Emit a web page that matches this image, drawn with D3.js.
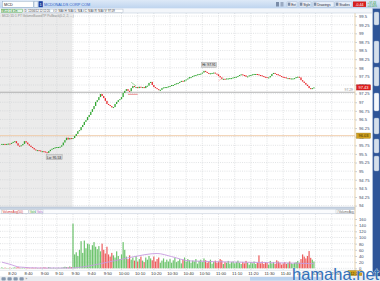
<!DOCTYPE html>
<html><head><meta charset="utf-8">
<script src="https://cdn.jsdelivr.net/npm/d3@7/dist/d3.min.js"></script>
<style>
body{margin:0;background:#fff}
svg{display:block;font-family:"Liberation Sans",Arial,sans-serif}
</style>
</head><body>
<svg id="c" width="380" height="281"></svg>
<script>
// ---------------- DATA ----------------
// pre-market closes (one per traded minute bar)
const preClose = [95.79,95.79,95.78,95.79,95.80,95.79,95.82,95.85,95.87,95.81,
  95.74,95.73,95.75,95.79,95.87,95.83,95.78,95.74,95.70,95.67,
  95.63,95.61,95.61,95.60,95.58,95.58,95.57,95.55,95.53,95.58,
  95.62,95.65,95.67,95.69,95.70,95.70,95.71,95.75,95.83,95.90,
  95.97,95.92,95.96,95.93];
// regular session closes, 9:30 .. 11:59 (1-minute bars)
const regClose = [95.96,96.02,96.08,96.16,96.19,96.28,96.34,96.43,96.48,96.57,
  96.63,96.72,96.80,96.89,97.01,97.06,97.15,97.24,97.18,97.12,
  97.04,96.95,96.92,96.89,96.85,96.86,96.95,97.01,97.06,97.09,
  97.15,97.27,97.33,97.38,97.33,97.32,97.41,97.47,97.44,97.44,
  97.41,97.45,97.43,97.44,97.41,97.47,97.48,97.56,97.59,97.50,
  97.44,97.41,97.38,97.35,97.36,97.41,97.43,97.44,97.44,97.46,
  97.47,97.50,97.50,97.53,97.55,97.56,97.59,97.62,97.60,97.64,
  97.66,97.69,97.73,97.73,97.76,97.78,97.79,97.81,97.82,97.83,
  97.86,97.91,97.88,97.85,97.83,97.84,97.85,97.86,97.83,97.81,
  97.76,97.72,97.67,97.68,97.67,97.69,97.69,97.70,97.70,97.72,
  97.73,97.74,97.76,97.79,97.81,97.79,97.78,97.74,97.75,97.78,
  97.79,97.81,97.82,97.82,97.81,97.79,97.78,97.76,97.74,97.73,
  97.72,97.72,97.76,97.82,97.85,97.82,97.81,97.79,97.76,97.74,
  97.73,97.72,97.70,97.70,97.69,97.69,97.69,97.70,97.73,97.74,
  97.72,97.64,97.60,97.56,97.51,97.47,97.41,97.38,97.41,97.43];
const preVolume = [3,1,2,1,1,2,1,2,3,2,4,2,1,2,1,3,2,1,1,2,1,2,1,1,2,1,3,2,1,4,2,1,2,1,1,2,1,2,3,5,4,3,6,4];
const regVolume = [145,45,52,40,60,88,50,90,65,80,
  78,60,75,85,70,62,72,55,80,60,
  48,70,45,38,50,42,35,55,40,30,
  45,85,60,38,30,42,28,35,25,40,
  22,30,38,25,20,35,28,40,32,26,
  38,22,30,35,18,25,32,20,28,22,
  30,18,26,34,20,24,30,16,28,35,
  22,30,26,18,25,22,30,15,24,28,
  20,32,26,18,22,28,15,20,25,18,
  22,30,26,14,20,18,24,15,20,22,
  16,20,25,18,14,20,16,24,18,12,
  20,16,22,14,18,42,16,22,14,20,
  18,12,24,16,20,14,26,22,18,12,
  16,20,14,18,22,16,14,18,20,24,
  18,30,45,38,32,40,56,34,28,22];
// VolumeAvg(50) line read at sampled bars
const avgIndex = [0,5,11,24,43,52,61,71,81,96,105,116,147,178,193];
const avgValue = [20,13,4,1,1,6,15,26,37,48,38,24,20,17,15];

const priceTicks = [99.5,99.25,99,98.75,98.5,98.25,98,97.75,97.5,97.25,97,96.75,96.5,96.25,96,95.75,95.5,95.25,95,94.75,94.5,94.25,94];
const priceTickLabels = ["99.5","99.25","99","98.75","98.5","98.25","98","97.75","97.5","97.25","97","96.75","96.5","96.25","96","95.75","95.5","95.25","95","94.75","94.5","94.25","94"];
const volTicks = [0,20,40,60,80,100,120,140,160];
const volTickLabels = ["0","20","40","60","80","100","120","140","160"];
const timeTickIndex = [5,15,25,34,44,54,64,74,84,94,104,114,124,134,144,154,164,174,184,194,204];
const timeTickLabels = ["8:20","8:40","9:00","9:10","9:30","9:40","9:50","10:00","10:10","10:20","10:30","10:40","10:50","11:00","11:10","11:20","11:30","11:40","11:50","12:00","12:10"];
const prevClose = 97.29;
const crossPrice = 96.03, crossIndex = 218.4, crossTimeLabel = "12:24";
const loLabel = "Lo: 95.53", hiLabel = "Hi: 97.91";

// ---------------- CHART ----------------
const svg = d3.select("#c");
const closes = preClose.concat(regClose);
const volumes = preVolume.concat(regVolume);
const openIdx = preClose.length;
const bars = closes.map((c,i)=>({i, o: i ? closes[i-1] : c, c, v: volumes[i]}));
const lastI = bars.length-1;

const plotR = 355, pTop = 13, pBot = 207, vTop = 214, vBot = 270;
const x = d3.scaleLinear().domain([0, lastI]).range([1.85, 1.85 + lastI*1.617]);
const y = d3.scaleLinear().domain([94, 99.5]).range([205.6, 16.1]);
const vy = d3.scaleLinear().domain([0,160]).range([268.3, 219]);
const UP = "#2fa52f", DN = "#e8262b";

svg.append("rect").attr("width",380).attr("height",281).attr("fill","#fff");

// pre-market shading
svg.append("rect").attr("x",0).attr("y",pTop).attr("width",x(openIdx-0.5)).attr("height",pBot-pTop).attr("fill","#ebebeb");

// grids
const g = svg.append("g").attr("stroke","#cdd0d4").attr("stroke-width",0.6).attr("stroke-dasharray","1,1.2");
g.selectAll(".hp").data(priceTicks).join("line").attr("x1",0).attr("x2",plotR).attr("y1",d=>y(d)).attr("y2",d=>y(d));
g.selectAll(".vp").data(timeTickIndex).join("line").attr("x1",d=>x(d)).attr("x2",d=>x(d)).attr("y1",pTop).attr("y2",pBot);
g.selectAll(".hv").data(volTicks).join("line").attr("x1",0).attr("x2",plotR).attr("y1",d=>vy(d)).attr("y2",d=>vy(d));
g.selectAll(".vv").data(timeTickIndex).join("line").attr("x1",d=>x(d)).attr("x2",d=>x(d)).attr("y1",vTop).attr("y2",vBot);

// previous close & crosshair lines
svg.append("line").attr("x1",0).attr("x2",plotR).attr("y1",y(prevClose)).attr("y2",y(prevClose)).attr("stroke","#a9a9a9").attr("stroke-width",0.9);
svg.append("text").attr("x",plotR-2).attr("y",y(prevClose)-1.2).attr("text-anchor","end").attr("font-size",3.4).attr("fill","#8a8a8a").text(prevClose.toFixed(2));
svg.append("line").attr("x1",0).attr("x2",plotR).attr("y1",y(crossPrice)).attr("y2",y(crossPrice)).attr("stroke","#efc9a4").attr("stroke-width",0.9);

// candles
svg.append("g").selectAll("rect").data(bars).join("rect")
  .attr("x",d=>x(d.i)-0.65).attr("width",1.3)
  .attr("y",d=>Math.min(y(d.o),y(d.c)))
  .attr("height",d=>Math.max(1,Math.abs(y(d.o)-y(d.c))))
  .attr("fill",d=>d.c>=d.o?UP:DN);

// small drawing annotations
svg.append("line").attr("x1",x(78)).attr("x2",x(84)).attr("y1",y(97.23)).attr("y2",y(97.23)).attr("stroke","#e06060").attr("stroke-width",0.7);
svg.append("line").attr("x1",x(80)).attr("x2",x(83)).attr("y1",y(97.58)).attr("y2",y(97.47)).attr("stroke","#5cbf5c").attr("stroke-width",0.6);
svg.append("line").attr("x1",x(134)).attr("x2",x(137)).attr("y1",y(97.62)).attr("y2",y(97.72)).attr("stroke","#f0a0a0").attr("stroke-width",0.6);

// Hi / Lo labels
function tag(cx, cy, txt, w){
  svg.append("rect").attr("x",cx-w/2).attr("y",cy-2.6).attr("width",w).attr("height",5).attr("fill","#d8d8d8").attr("stroke","#9a9a9a").attr("stroke-width",0.4);
  svg.append("text").attr("x",cx).attr("y",cy+1.2).attr("text-anchor","middle").attr("font-size",3.4).attr("fill","#222").text(txt);
}
const loI = d3.minIndex(closes), hiI = d3.maxIndex(closes);
tag(x(loI)+7, y(closes[loI])+4.5, loLabel, 16);
tag(x(hiI)+5, y(closes[hiI])-6, hiLabel, 15);

// study caption
svg.append("text").attr("x",2).attr("y",17).attr("font-size",3.2).attr("fill","#8c8c8c").text("MCD 1D 1 PT VolumeBasedTP Pullback(0.2, 2, ...)");

// volume header band
svg.append("rect").attr("x",0).attr("y",pBot).attr("width",plotR).attr("height",2.6).attr("fill","#c7d3e2").attr("stroke","#a7b6c9").attr("stroke-width",0.4);
svg.append("rect").attr("x",0).attr("y",209.6).attr("width",plotR).attr("height",3.6).attr("fill","#fafbfd");
svg.append("line").attr("x1",0).attr("x2",plotR).attr("y1",213.6).attr("y2",213.6).attr("stroke","#cfd7e1").attr("stroke-width",0.8);
function vtab(x0,w,txt,col){
  svg.append("rect").attr("x",x0).attr("y",209.8).attr("width",w).attr("height",3.4).attr("fill","#fff").attr("stroke","#a8b4c4").attr("stroke-width",0.4);
  svg.append("text").attr("x",x0+1).attr("y",212.6).attr("font-size",3).attr("fill",col).text(txt);
}
vtab(1.5,27,"VolumeAvg(50)","#d03030");
vtab(29,6.5,"Vols","#2a9a2a");
vtab(36,7,"Vols","#9b4fc0");
vtab(336,19,"#VolumeAvg","#666");

// volume bars
svg.append("g").selectAll("rect").data(bars).join("rect")
  .attr("x",d=>x(d.i)-0.6).attr("width",1.2)
  .attr("y",d=>vy(d.v)).attr("height",d=>vy(0)-vy(d.v))
  .attr("fill",d=>d.c>=d.o?"#5cbc5c":"#ea4a4a").attr("fill-opacity",0.9);
// volume average line
svg.append("path").datum(avgIndex.map((d,j)=>[d,avgValue[j]]))
  .attr("d",d3.line().x(d=>x(d[0])).y(d=>vy(d[1])).curve(d3.curveMonotoneX))
  .attr("fill","none").attr("stroke","#c79be0").attr("stroke-width",0.9);

// axes
const pa = svg.append("g").attr("transform",`translate(${plotR},0)`)
  .call(d3.axisRight(y).tickValues(priceTicks).tickFormat((d,j)=>priceTickLabels[j]).tickSize(2).tickPadding(2));
const va = svg.append("g").attr("transform",`translate(${plotR},0)`)
  .call(d3.axisRight(vy).tickValues(volTicks).tickFormat((d,j)=>volTickLabels[j]).tickSize(2).tickPadding(2));
const ta = svg.append("g").attr("transform",`translate(2,${vBot})`)
  .call(d3.axisBottom(x).tickValues(timeTickIndex).tickFormat((d,j)=>timeTickLabels[j]).tickSize(0).tickPadding(2.2));
[pa,va,ta].forEach(a=>{
  a.select(".domain").remove();
  a.selectAll("line").attr("stroke","#8aa0bb").attr("stroke-width",0.5);
  a.selectAll("text").attr("font-size",4.2).attr("fill","#3a4a66").attr("font-family","'Liberation Sans',Arial,sans-serif");
});
ta.selectAll("text").attr("fill","#333").attr("dy","0.55em");

// time axis row line
svg.append("line").attr("x1",0).attr("x2",plotR).attr("y1",vBot+0.3).attr("y2",vBot+0.3).attr("stroke","#c9d2dd").attr("stroke-width",0.5);

// crosshair vertical / plot edge
svg.append("line").attr("x1",x(crossIndex)).attr("x2",x(crossIndex)).attr("y1",pTop).attr("y2",276).attr("stroke","#e6cfa6").attr("stroke-width",0.9);

// price boxes
function pbox(py, txt, fill, stroke, col){
  svg.append("rect").attr("x",356.5).attr("y",py-2.6).attr("width",14).attr("height",5.2).attr("fill",fill).attr("stroke",stroke).attr("stroke-width",0.4);
  svg.append("text").attr("x",363.5).attr("y",py+1.5).attr("text-anchor","middle").attr("font-size",4).attr("fill",col).text(txt);
}
pbox(y(closes[lastI]), closes[lastI].toFixed(2), "#e02020", "#a01010", "#fff");
pbox(y(crossPrice), crossPrice.toFixed(2), "#d2a21e", "#9a7410", "#3a2a00");
// time box
svg.append("rect").attr("x",x(crossIndex)-7).attr("y",270.6).attr("width",14).attr("height",5).attr("fill","#d2a21e").attr("stroke","#9a7410").attr("stroke-width",0.4);
svg.append("text").attr("x",x(crossIndex)).attr("y",274.5).attr("text-anchor","middle").attr("font-size",3.8).attr("fill","#3a2a00").text(crossTimeLabel);

// ---------- top toolbar ----------
const defs = svg.append("defs");
const lg = defs.append("linearGradient").attr("id","tb").attr("x1",0).attr("x2",0).attr("y1",0).attr("y2",1);
lg.append("stop").attr("offset",0).attr("stop-color","#dde9f7");
lg.append("stop").attr("offset",1).attr("stop-color","#bdd3ee");
svg.append("rect").attr("x",0).attr("y",0).attr("width",380).attr("height",8.6).attr("fill","url(#tb)");
svg.append("rect").attr("x",2.5).attr("y",1.2).attr("width",31).attr("height",6).attr("fill","#fff").attr("stroke","#7f9db9").attr("stroke-width",0.4);
svg.append("text").attr("x",4).attr("y",5.6).attr("font-size",3.8).attr("fill","#222").text("MCD");
svg.append("rect").attr("x",34).attr("y",1.2).attr("width",4).attr("height",6).attr("fill","#eef3f9").attr("stroke","#7f9db9").attr("stroke-width",0.4);
svg.append("rect").attr("x",38.6).attr("y",1.2).attr("width",4.2).attr("height",6).attr("fill","#1b3fa0");
svg.append("text").attr("x",40.7).attr("y",5.8).attr("text-anchor","middle").attr("font-size",4).attr("fill","#fff").text("1");
svg.append("text").attr("x",44).attr("y",5.8).attr("font-size",3.8).attr("fill","#2c62c8").text("MCDONALDS CORP COM");

function btn(x0,w,txt){
  svg.append("rect").attr("x",x0).attr("y",1.6).attr("width",w).attr("height",5.4).attr("rx",0.8).attr("fill","#e9f0f9").attr("stroke","#9db1cc").attr("stroke-width",0.4);
  svg.append("rect").attr("x",x0+0.8).attr("y",2.6).attr("width",2.6).attr("height",3.2).attr("fill","#7a8ca8");
  svg.append("text").attr("x",x0+4.2).attr("y",5.6).attr("font-size",3.2).attr("fill","#223").text(txt);
}
svg.append("rect").attr("x",276).attr("y",2).attr("width",3).attr("height",4.5).attr("fill","#7a8ca8");
svg.append("rect").attr("x",280.5).attr("y",2).attr("width",3).attr("height",4.5).attr("fill","#9aaac2");
btn(287,10,"Ext");
btn(299,12,"Style");
btn(313,21,"Drawings");
btn(335,17,"Studies");
svg.append("rect").attr("x",353).attr("y",1.5).attr("width",13).attr("height",5.4).attr("fill","#d61f1f");
svg.append("text").attr("x",359.5).attr("y",5.6).attr("text-anchor","middle").attr("font-size",3.6).attr("fill","#fff").text("-0.44");
svg.append("text").attr("x",367.5).attr("y",3.9).attr("font-size",2.8).attr("fill","#2a9a2a").text("+97.43");
svg.append("text").attr("x",367.5).attr("y",7.2).attr("font-size",2.8).attr("fill","#2a9a2a").text("+0.14%");

// second row (info tabs)
svg.append("rect").attr("x",0).attr("y",8.6).attr("width",372).attr("height",4.4).attr("fill","#f3f6fa");
svg.append("line").attr("x1",0).attr("x2",372).attr("y1",13).attr("y2",13).attr("stroke","#b7c4d4").attr("stroke-width",0.5);
function itab(x0,w,txt,col,fill,stroke){
  svg.append("rect").attr("x",x0).attr("y",9.1).attr("width",w).attr("height",3.5).attr("fill",fill).attr("stroke",stroke).attr("stroke-width",0.4);
  svg.append("text").attr("x",x0+0.8).attr("y",11.8).attr("font-size",2.7).attr("fill",col).text(txt);
}
itab(1.5,21,"MCD 1 d 1m","#1d7a1d","#e4f5e4","#3a9a3a");
itab(24,29.5,"D: 12/06/12 12:12:20","#333","#fff","#9aa8bb");
itab(54,9.5,"O: N/A","#333","#fff","#9aa8bb");
itab(64,9.5,"H: N/A","#333","#fff","#9aa8bb");
itab(74,9.5,"L: N/A","#333","#fff","#9aa8bb");
itab(84,9.5,"C: N/A","#333","#fff","#9aa8bb");
itab(94,9.5,"R: N/A","#333","#fff","#9aa8bb");
itab(104,19,"V: 97.09","#333","#fff","#9aa8bb");

// right sidebar
svg.append("rect").attr("x",372.4).attr("y",8.6).attr("width",7.6).attr("height",268).attr("fill","#2f5598");
svg.append("line").attr("x1",372.4).attr("x2",372.4).attr("y1",8.6).attr("y2",276).attr("stroke","#e8eef6").attr("stroke-width",0.5);
[[12,25],[41,63],[67,86],[93,111],[118,134],[139,153],[156,171]].forEach(([a,b],j)=>{
  svg.append("rect").attr("x",374).attr("y",a).attr("width",5).attr("height",b-a).attr("rx",1.2)
    .attr("fill", j===3 ? "#f4f7fb" : "#d5dfeb").attr("stroke","#8da4c4").attr("stroke-width",0.4);
});

// bottom row
svg.append("rect").attr("x",0).attr("y",276.3).attr("width",380).attr("height",4.7).attr("fill","#e9ecf0");
svg.append("rect").attr("x",250).attr("y",277).attr("width",72).attr("height",3.6).attr("fill","#bcd3ee");
[1.5,7.5,13.5,19.5].forEach(cx=>svg.append("rect").attr("x",cx).attr("y",277.2).attr("width",4.2).attr("height",3.4).attr("rx",0.8).attr("fill","#8597ae"));
svg.append("text").attr("x",25.5).attr("y",280.4).attr("font-size",3).attr("fill","#666").text("»");

// watermark
svg.append("text").attr("x",292).attr("y",280).attr("font-size",16.5).attr("fill","#3370b8")
  .attr("stroke","#e8f1fb").attr("stroke-width",0.6).attr("paint-order","stroke").text("hamaha.net");
</script>
</body></html>
